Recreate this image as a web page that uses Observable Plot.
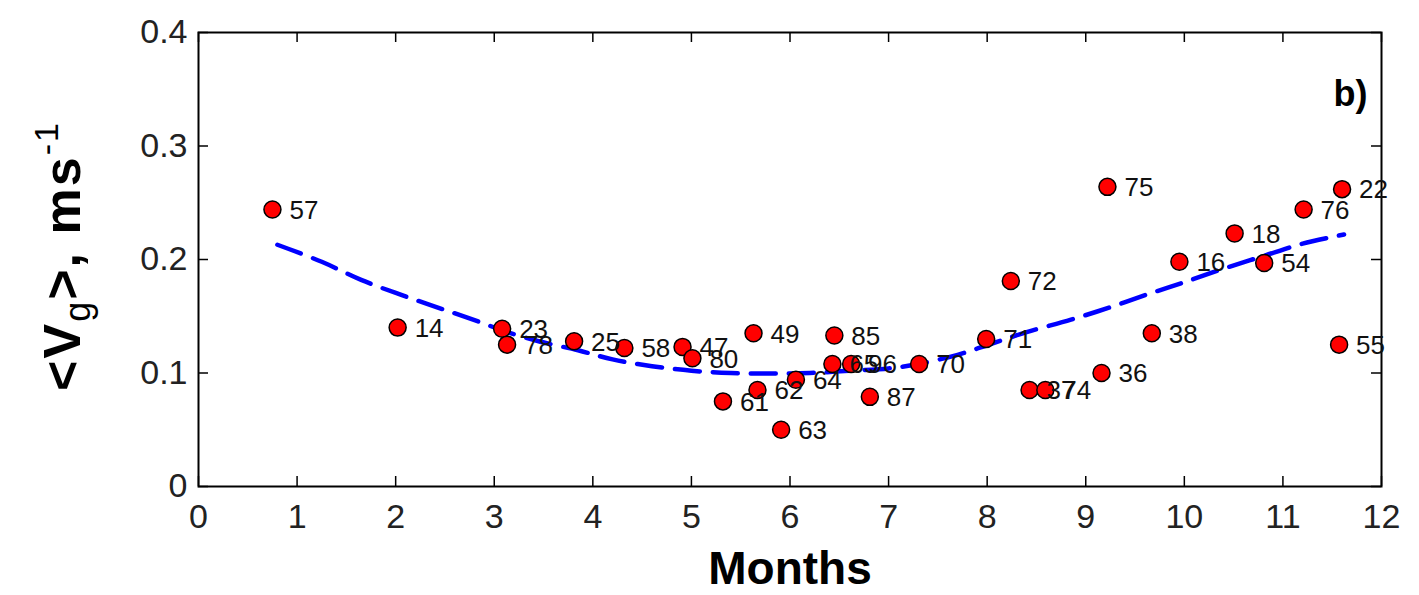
<!DOCTYPE html>
<html><head><meta charset="utf-8">
<script src="https://cdn.jsdelivr.net/npm/d3@7"></script>
<script src="https://cdn.jsdelivr.net/npm/@observablehq/plot@0.6"></script>
<style>
body{margin:0;background:#fff;}
#chart svg{font-family:"Liberation Sans",Arial,sans-serif;}
</style></head><body><div id="chart"></div>
<script>
// Observation points: label id, month, mean speed (m/s)
const pointIds    = ["57","14","23","78","25","58","47","80","49","61","62","64","63","85","65","96","87","70","71","72","37","74","36","75","38","16","18","54","76","22","55"];
const pointMonths = [0.75,2.02,3.08,3.13,3.81,4.32,4.91,5.01,5.63,5.32,5.67,6.06,5.91,6.45,6.43,6.62,6.81,7.31,7.99,8.24,8.43,8.59,9.16,9.22,9.67,9.95,10.51,10.81,11.21,11.60,11.57];
const pointSpeeds = [0.244,0.140,0.139,0.125,0.128,0.122,0.123,0.113,0.135,0.075,0.085,0.094,0.050,0.133,0.108,0.108,0.079,0.108,0.130,0.181,0.085,0.085,0.100,0.264,0.135,0.198,0.223,0.197,0.244,0.262,0.125];

// Dashed fitted curve
const fitMonths = [0.80,1.25,1.65,2.05,2.45,2.85,3.10,3.45,3.85,4.20,4.60,5.00,5.40,5.80,6.20,6.60,7.00,7.30,7.70,8.05,8.40,8.85,9.25,9.65,10.00,10.40,10.80,11.20,11.62];
const fitSpeeds = [0.213,0.198,0.182,0.169,0.157,0.145,0.137,0.128,0.120,0.112,0.106,0.102,0.100,0.0995,0.100,0.102,0.104,0.108,0.116,0.126,0.136,0.147,0.158,0.170,0.180,0.192,0.203,0.214,0.222];

const xTicks = [0,1,2,3,4,5,6,7,8,9,10,11,12];
const yTicks = [0,0.1,0.2,0.3,0.4];
const panelLabel = ["b)"];
const xTitle = ["Months"];

const points = pointIds.map((id,i)=>({id, month: pointMonths[i], speed: pointSpeeds[i]}));
const fit = fitMonths.map((m,i)=>({month: m, speed: fitSpeeds[i]}));

const W = 1419, H = 595, mL = 198, mR = 38, mT = 32, mB = 109;
const innerW = W - mL - mR, innerH = H - mT - mB;
const tk = 10;

const chart = Plot.plot({
  width: W, height: H,
  marginLeft: mL, marginRight: mR, marginTop: mT, marginBottom: mB,
  x: {domain: [0, 12]},
  y: {domain: [0, 0.4]},
  style: {background: "white", color: "black", fontFamily: "'Liberation Sans', Arial, sans-serif"},
  marks: [
    Plot.axisX(xTicks, {tickSize: 0, tickPadding: 17, fontSize: 34, label: null, tickFormat: d => String(d), fill: "#222"}),
    Plot.axisY(yTicks, {tickSize: 0, tickPadding: 11, fontSize: 34, label: null, tickFormat: d => String(d), fill: "#222"}),
    Plot.tickX(xTicks, {x: d => d, insetTop: innerH - tk, stroke: "black", strokeWidth: 1.5}),
    Plot.tickX(xTicks, {x: d => d, insetBottom: innerH - tk, stroke: "black", strokeWidth: 1.5}),
    Plot.tickY(yTicks, {y: d => d, insetRight: innerW - tk, stroke: "black", strokeWidth: 1.5}),
    Plot.tickY(yTicks, {y: d => d, insetLeft: innerW - tk, stroke: "black", strokeWidth: 1.5}),
    Plot.frame({stroke: "black", strokeWidth: 2}),
    Plot.line(fit, {x: "month", y: "speed", stroke: "#0000ff", strokeWidth: 4.5, strokeDasharray: "25,13", curve: "catmull-rom"}),
    Plot.dot(points, {x: "month", y: "speed", r: 8.5, fill: "#ff0000", stroke: "black", strokeWidth: 1.5}),
    Plot.text(points, {x: "month", y: "speed", text: "id", dx: 17, dy: 1, textAnchor: "start", fontSize: 26, fill: "#111"}),
    Plot.text(panelLabel, {frameAnchor: "top-right", dx: -14, dy: 48, fontSize: 36, fontWeight: "bold", fill: "black"}),
    Plot.text(xTitle, {frameAnchor: "bottom", dy: 97, fontSize: 46, fontWeight: "bold", fill: "black"})
  ]
});
document.getElementById("chart").append(chart);

// Y axis title with subscript and superscript
const svg = d3.select(chart);
const yt = svg.append("text")
  .attr("transform", "translate(80,256) rotate(-90)")
  .attr("text-anchor", "middle")
  .attr("font-family", "'Liberation Sans', Arial, sans-serif")
  .attr("font-size", 52)
  .attr("font-weight", "bold")
  .attr("letter-spacing", 2)
  .attr("fill", "black");
yt.append("tspan").text("<V");
yt.append("tspan").attr("dy", 10).attr("font-size", 36).attr("font-weight", "normal").text("g");
yt.append("tspan").attr("dy", -10).text(">, ms");
yt.append("tspan").attr("dy", -22).attr("font-size", 34).attr("font-weight", "normal").text("-1");
</script></body></html>
